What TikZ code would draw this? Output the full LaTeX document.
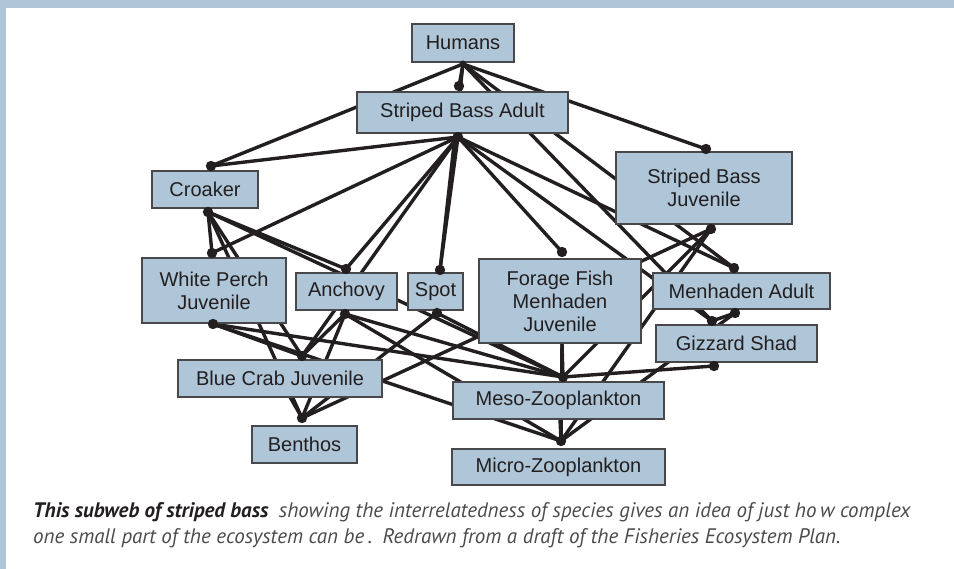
\documentclass[tikz,border=0pt]{standalone}
\usepackage{fontspec}
\setmainfont{Liberation Sans}
\newfontfamily\capfont{PT Sans}
\definecolor{webblue}{RGB}{175,198,216}
\definecolor{boxline}{RGB}{72,72,74}
\definecolor{ink}{RGB}{35,31,32}
\definecolor{capgray}{RGB}{75,75,75}

\begin{document}
\begin{tikzpicture}[x=1pt,y=-1pt]

  \useasboundingbox (0,0) rectangle (954,569);
  \fill[webblue] (0,0) rectangle (954,8);
  \fill[webblue] (0,0) rectangle (6,569);

  \coordinate (humB) at (463,64);
  \coordinate (sbaT) at (459,86);
  \coordinate (sbaB) at (458,137);
  \coordinate (croT) at (211,166);
  \coordinate (croB) at (208,212);
  \coordinate (wpT)  at (212,253);
  \coordinate (wpB)  at (213,324);
  \coordinate (ancT) at (346,269);
  \coordinate (ancB) at (345,314);
  \coordinate (spoT) at (440,270);
  \coordinate (spoB) at (437,313);
  \coordinate (forT) at (562,252);
  \coordinate (forB) at (562,343);
  \coordinate (sbjT) at (706,149);
  \coordinate (sbjB) at (711,229);
  \coordinate (maT)  at (734,268);
  \coordinate (maB)  at (735,313);
  \coordinate (gsT)  at (712,321);
  \coordinate (gsB)  at (714,366);
  \coordinate (bcjT) at (302,356);
  \coordinate (bcjB) at (290,397);
  \coordinate (benT) at (302,418);
  \coordinate (mesT) at (563,377);
  \coordinate (mesB) at (560,419);
  \coordinate (micT) at (561,441);

  \begin{scope}[every edge/.style={draw=ink,line width=3.4pt}]
    \path (humB) edge (sbaT) edge (croT) edge (sbjT) edge (maT) edge (gsT) edge (spoT);
    \path (sbaB) edge (croT) edge (wpT) edge (ancT) edge (bcjT) edge (spoT)
                 edge (forT) edge (maT) edge (gsT);
    \path (croB) edge (wpT) edge (ancT) edge (mesT) edge (bcjT) edge (benT);
    \path (wpB)  edge (bcjT) edge (mesT) edge (micT);
    \path (ancB) edge (bcjT) edge (benT) edge (mesT) edge (micT);
    \path (spoB) edge (benT) edge (mesT);
    \path (forB) edge (mesT) edge (micT);
    \path (sbjB) edge (mesT) edge (micT) edge (benT);
    \path (maB)  edge (gsT) edge (micT);
    \path (gsB)  edge (mesT);
    \path (bcjB) edge (benT);
    \path (mesB) edge (micT);
  \end{scope}

  \begin{scope}[every node/.style={draw=boxline,line width=1.3pt,fill=webblue,
      text=ink,align=center,inner sep=0pt,font=\fontsize{20}{23}\selectfont}]
    \node[minimum width=102pt,minimum height=38pt] (hum) at (463,43)    {Humans};
    \node[minimum width=211pt,minimum height=41pt] (sba) at (462.5,112.5) {Striped Bass Adult};
    \node[minimum width=106pt,minimum height=37pt] (cro) at (205,189.5) {Croaker};
    \node[minimum width=144pt,minimum height=65pt] (wp)  at (214,290.5) {White Perch\\Juvenile};
    \node[minimum width=101pt,minimum height=37pt] (anc) at (346.5,291.5) {Anchovy};
    \node[minimum width=55pt,minimum height=37pt]  (spo) at (435.5,291.5) {Spot};
    \node[minimum width=162pt,minimum height=84pt] (for) at (560,301)    {Forage Fish\\Menhaden\\Juvenile};
    \node[minimum width=176pt,minimum height=72pt] (sbj) at (704,188)    {Striped Bass\\Juvenile};
    \node[minimum width=177pt,minimum height=36pt] (ma)  at (741.5,291)  {Menhaden Adult};
    \node[minimum width=161pt,minimum height=37pt] (gs)  at (736.5,343.5) {Gizzard Shad};
    \node[minimum width=204pt,minimum height=37pt] (bcj) at (280,378.5)  {Blue Crab Juvenile};
    \node[minimum width=105pt,minimum height=37pt] (ben) at (304.5,444.5) {Benthos};
    \node[minimum width=211pt,minimum height=37pt] (mes) at (558.5,400.5) {Meso-Zooplankton};
    \node[minimum width=213pt,minimum height=36pt] (mic) at (558.5,467)  {Micro-Zooplankton};
  \end{scope}

  \fill[ink] (humB) circle (3.5pt);
  \foreach \p in {sbaT,sbaB,croT,croB,wpT,wpB,ancT,ancB,spoT,spoB,forT,sbjT,sbjB,
                  maT,maB,gsT,gsB,bcjT,benT,mesT,micT}
    \fill[ink] (\p) circle (5.2pt);

  \node[anchor=base west,inner sep=0pt,text=capgray,font=\capfont\itshape\fontsize{21}{24}\selectfont] (cap1) at (33,517)
    {{\bfseries\color{ink}This subweb of striped bass}\enspace showing the interrelatedness of species gives an idea of just ho\,w complex};
  \node[anchor=base west,inner sep=0pt,text=capgray,font=\capfont\itshape\fontsize{21}{24}\selectfont] (cap2) at (33,543)
    {one small part of the ecosystem can be\,.\enspace Redrawn from a draft of the Fisheries Ecosystem Plan.};

\end{tikzpicture}
\end{document}
